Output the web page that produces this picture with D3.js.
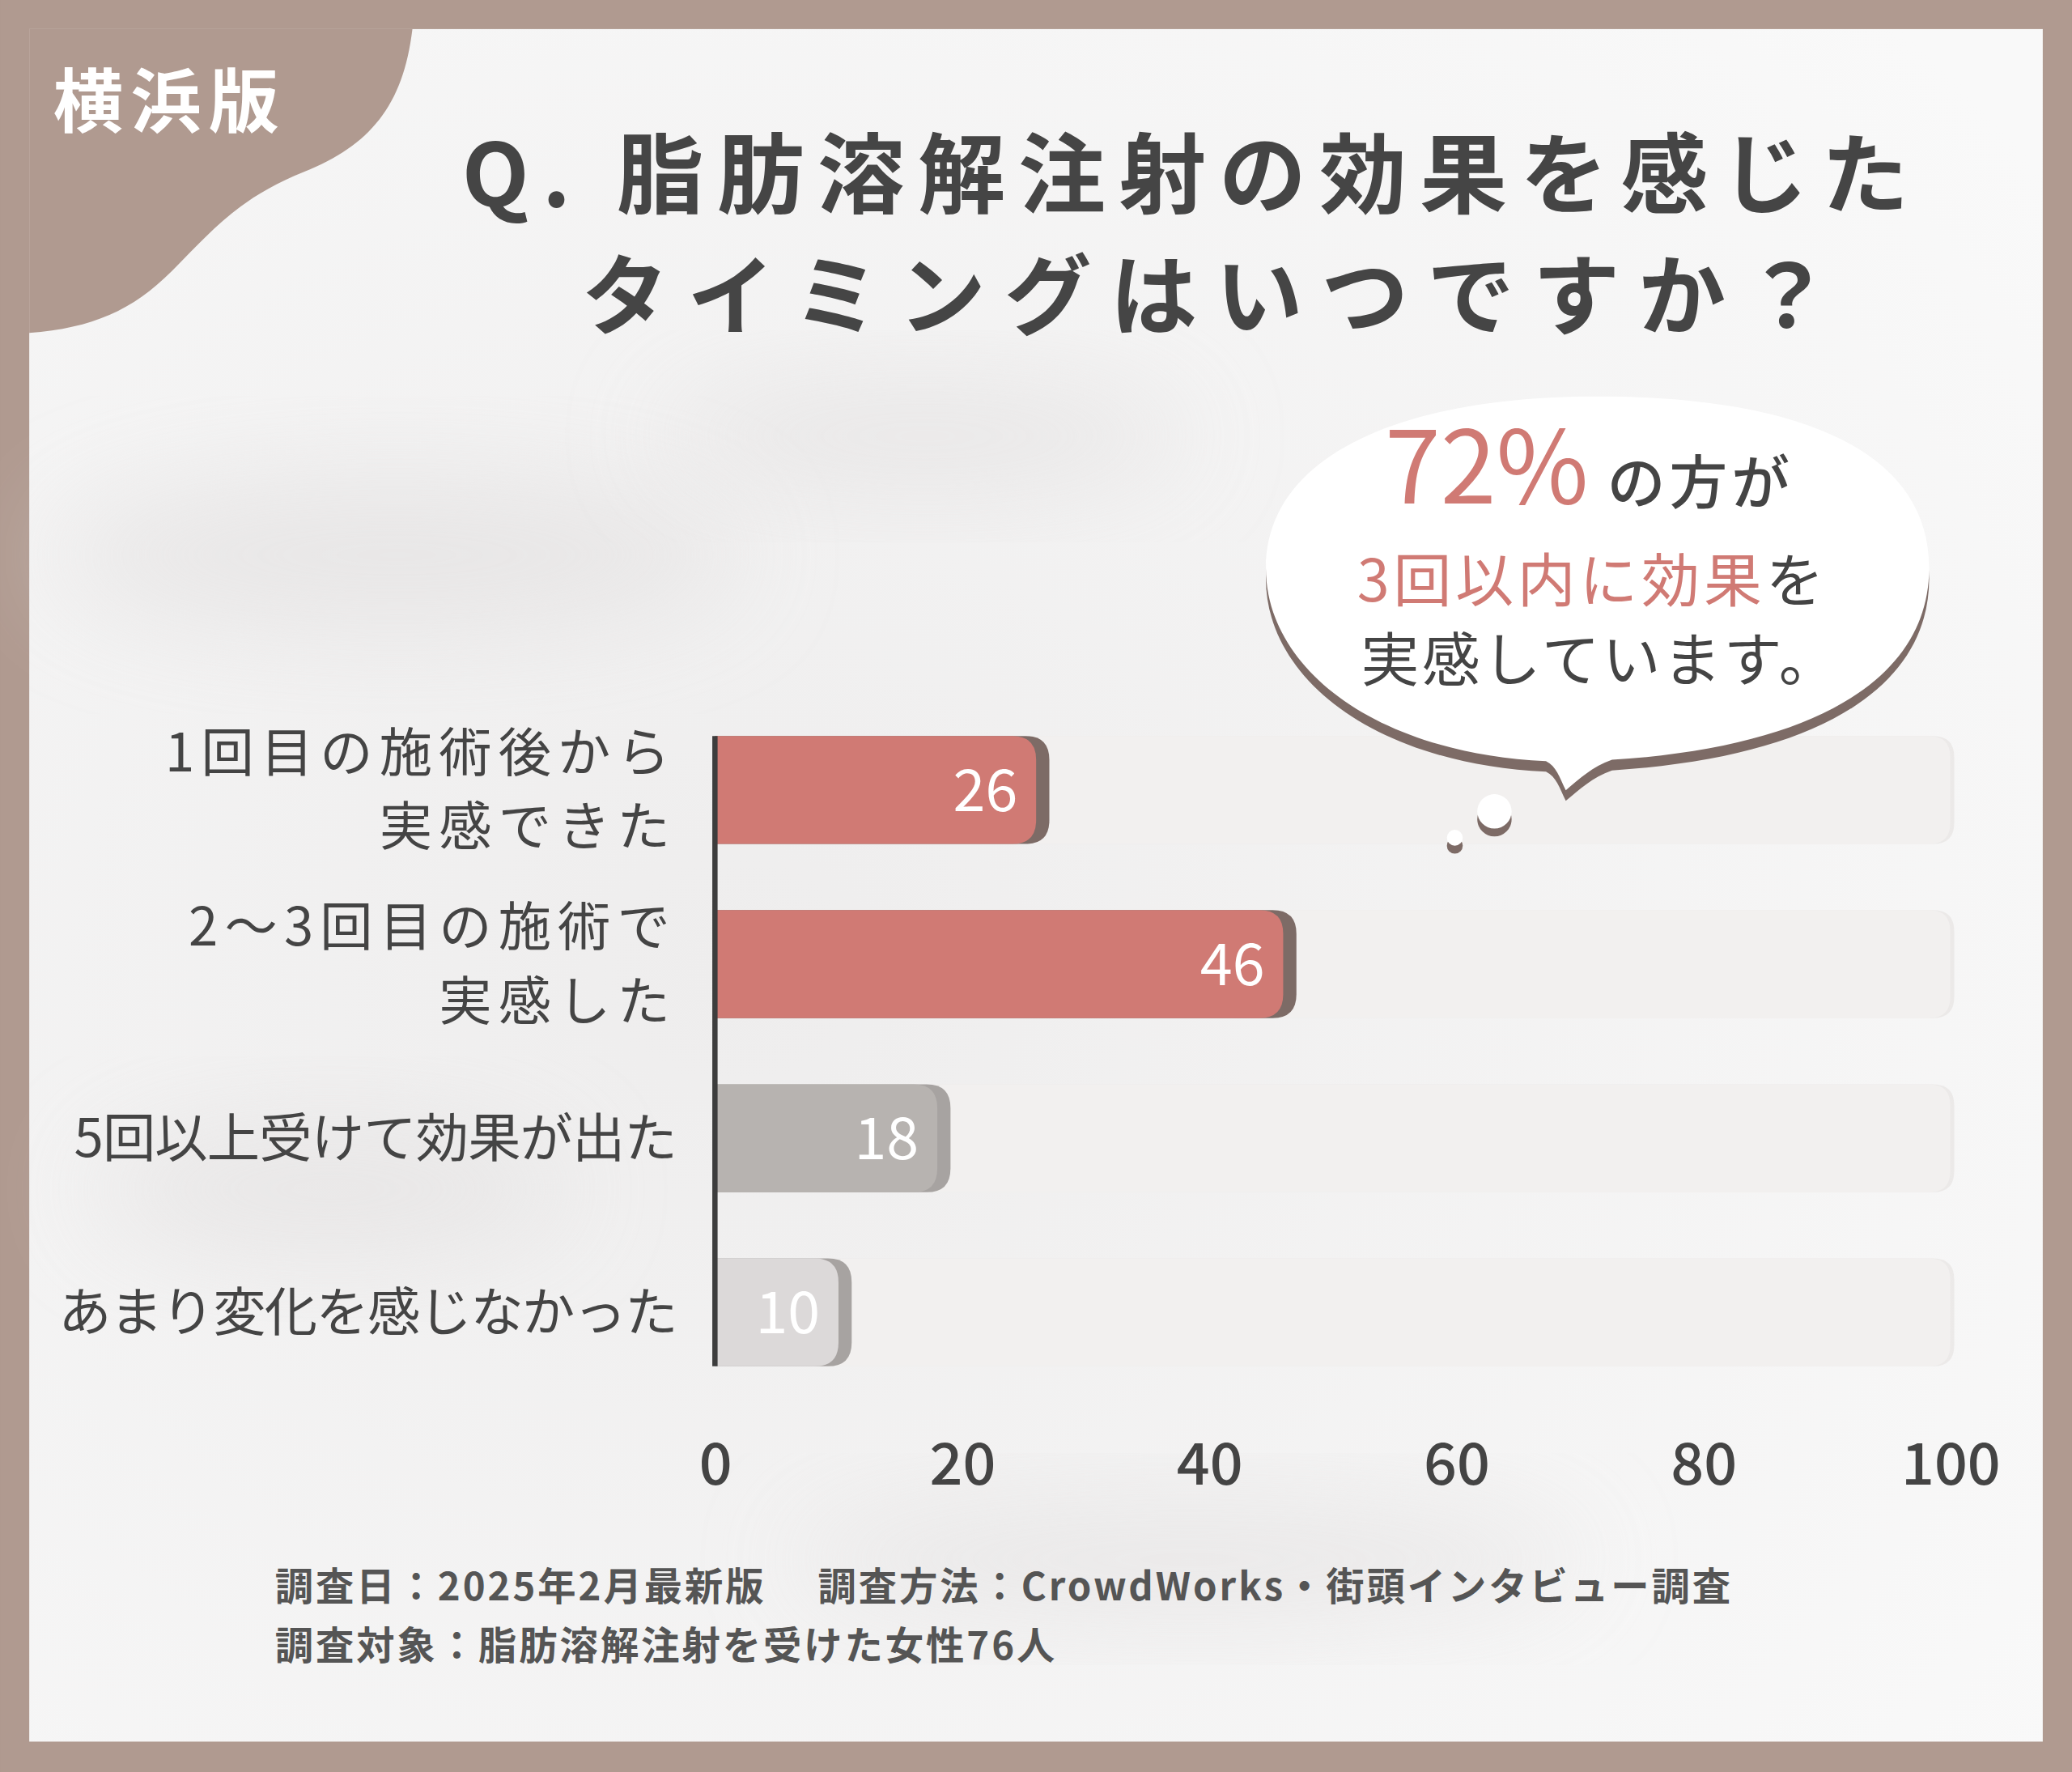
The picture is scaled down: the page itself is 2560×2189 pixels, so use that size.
<!DOCTYPE html>
<html><head><meta charset="utf-8">
<script src="https://cdn.jsdelivr.net/npm/d3@7"></script>
<style>html,body{margin:0;padding:0;background:#b09a90;}svg{display:block;}</style>
</head><body>
<script>
const categories = [["1回目の施術後から","実感できた"],["2〜3回目の施術で","実感した"],["5回以上受けて効果が出た"],["あまり変化を感じなかった"]];
const values = [26, 46, 18, 10];
const barColors = ["#d07a74","#d07a74","#b7b3b0","#dcd9d9"];
const tickValues = [0,20,40,60,80,100];
const footer = ["調査日：2025年2月最新版　 調査方法：CrowdWorks・街頭インタビュー調査","調査対象：脂肪溶解注射を受けた女性76人"];

const W=1568,H=1341;
const F='"Noto Sans CJK JP","Noto Sans",sans-serif';
const svg=d3.select("body").append("svg").attr("width",2560).attr("height",2189).attr("viewBox",`0 0 ${W} ${H}`);
const defs=svg.append("defs");
const g1=defs.append("radialGradient").attr("id","bg").attr("cx","0.35").attr("cy","0.55").attr("r","0.8");
g1.append("stop").attr("offset","0").attr("stop-color","#eeeded");
g1.append("stop").attr("offset","1").attr("stop-color","#f9f9f9");
const fl=defs.append("filter").attr("id","blur").attr("x","-50%").attr("y","-50%").attr("width","200%").attr("height","200%");
fl.append("feGaussianBlur").attr("stdDeviation",40);

svg.append("rect").attr("width",W).attr("height",H).attr("fill","#b09a90");
svg.append("rect").attr("x",22).attr("y",22).attr("width",1524).attr("height",1296).attr("fill","url(#bg)");
[[300,420,260,60],[700,330,200,40],[250,900,180,50],[900,1180,300,40]].forEach(d=>{
 svg.append("ellipse").attr("cx",d[0]).attr("cy",d[1]).attr("rx",d[2]).attr("ry",d[3]).attr("fill","#e4e2e2").attr("filter","url(#blur)").attr("opacity",0.7);
});
svg.append("path").attr("d","M22,22 L312,22 C305,80 280,110 230,130 C180,150 160,175 130,205 C100,235 70,248 22,252 Z").attr("fill","#b09a90");
svg.append("text").attr("x",40).attr("y",96).attr("font-family",F).attr("font-weight",700).attr("font-size",53).attr("fill","#fff").attr("letter-spacing",6).text("横浜版");

svg.append("text").attr("x",902).attr("y",156).attr("text-anchor","middle").attr("font-family",F).attr("font-weight",700).attr("font-size",66).attr("fill","#454545").attr("letter-spacing",10).text("Q. 脂肪溶解注射の効果を感じた");
svg.append("text").attr("x",920).attr("y",248).attr("text-anchor","middle").attr("font-family",F).attr("font-weight",700).attr("font-size",66).attr("fill","#454545").attr("letter-spacing",14).text("タイミングはいつですか？");

const x=d3.scaleLinear().domain([0,100]).range([541,1476]);
const y=d3.scaleBand().domain(d3.range(values.length)).range([557,1034]).paddingInner(0.38).paddingOuter(0);
const bh=y.bandwidth();
function rrect(x0,x1,y0,h,r){return `M${x0},${y0} H${x1-r} Q${x1},${y0} ${x1},${y0+r} V${y0+h-r} Q${x1},${y0+h} ${x1-r},${y0+h} H${x0} Z`;}
const rows=svg.append("g").selectAll("g").data(values).join("g");
rows.append("path").attr("d",(d,i)=>rrect(x(0),x(100)+3,y(i),bh,16)).attr("fill","#e8e6e5").attr("opacity",0.8);
rows.append("path").attr("d",(d,i)=>rrect(x(0),x(100),y(i),bh,16)).attr("fill","#f2f0ef");
rows.append("path").attr("d",(d,i)=>rrect(x(0),x(d)+10,y(i),bh,18)).attr("fill",(d,i)=>i<2?"#7d6b66":"#a7a3a1");
rows.append("path").attr("d",(d,i)=>rrect(x(0),x(d),y(i),bh,18)).attr("fill",(d,i)=>barColors[i]);
rows.append("text").attr("x",d=>x(d)-14).attr("y",(d,i)=>y(i)+bh/2+16).attr("text-anchor","end").attr("font-family",F).attr("font-size",44).attr("fill","#fff").text(d=>d);
svg.append("line").attr("x1",x(0)).attr("x2",x(0)).attr("y1",557).attr("y2",1034).attr("stroke","#3d3d3d").attr("stroke-width",4);

categories.forEach((c,i)=>{
  const cy=y(i)+bh/2, n=c.length;
  c.forEach((t,j)=>{
    svg.append("text").attr("x",512).attr("y",cy+(j-(n-1)/2)*56+14).attr("text-anchor","end").attr("font-family",F).attr("font-size",40).attr("fill","#444").attr("letter-spacing",n>1?5:(i===3?-1:-0.5)).text(t);
  });
});

const ax=svg.append("g").attr("transform","translate(0,1108)").call(d3.axisBottom(x).tickValues(tickValues).tickSize(0).tickPadding(0));
ax.select(".domain").remove();
ax.selectAll("text").attr("font-family",F).attr("font-size",44).attr("font-weight",500).attr("fill","#444").attr("dy","0.35em");

const bub=svg.append("g");
const bpath="M1208,300 C1360,300 1460,340 1460,430 C1460,510 1380,565 1220,575 C1205,580 1195,590 1185,598 C1180,588 1178,580 1170,576 C1040,570 958,505 958,430 C958,345 1060,300 1208,300 Z";
bub.append("path").attr("d",bpath).attr("fill","#7d6b66").attr("transform","translate(0,8)");
bub.append("path").attr("d",bpath).attr("fill","#ffffff");
bub.append("circle").attr("cx",1131).attr("cy",620).attr("r",13).attr("fill","#7d6b66");
bub.append("circle").attr("cx",1131).attr("cy",614).attr("r",13).attr("fill","#fff");
bub.append("circle").attr("cx",1101).attr("cy",640).attr("r",6).attr("fill","#7d6b66");
bub.append("circle").attr("cx",1101).attr("cy",634).attr("r",6).attr("fill","#fff");
const t1=bub.append("text").attr("x",1048).attr("y",381).attr("font-family",F);
t1.append("tspan").attr("font-size",76).attr("fill","#d07a74").text("72%");
t1.append("tspan").attr("font-size",44).attr("fill","#444").attr("dx",14).attr("font-weight",500).attr("letter-spacing",3).text("の方が");
const t2=bub.append("text").attr("x",1027).attr("y",455).attr("font-family",F).attr("font-size",44).attr("letter-spacing",3);
t2.append("tspan").attr("fill","#d07a74").text("3回以内に効果");
t2.append("tspan").attr("fill","#444").text("を");
bub.append("text").attr("x",1030).attr("y",515).attr("font-family",F).attr("font-size",44).attr("fill","#444").attr("letter-spacing",2).text("実感しています。");

footer.forEach((t,i)=>svg.append("text").attr("x",208).attr("y",1211+i*45).attr("font-family",F).attr("font-weight",700).attr("font-size",29).attr("fill","#555").attr("letter-spacing",1.8).text(t));
</script>
</body></html>
